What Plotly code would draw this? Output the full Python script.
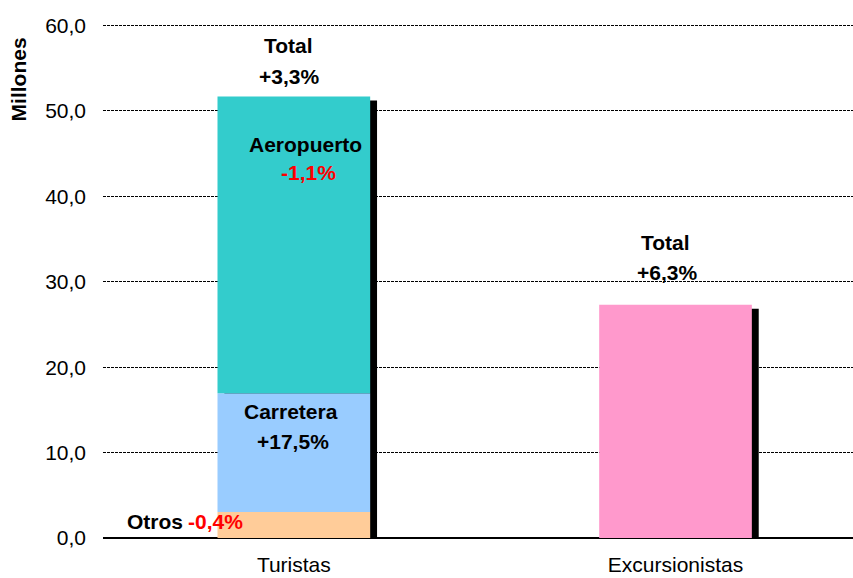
import plotly.graph_objects as go

categories = ["Turistas", "Excursionistas"]
segment_names = ["Otros", "Carretera", "Aeropuerto"]
turistas_values = [3.05, 13.9, 34.75]
excursionistas_values = [27.3]
segment_colors = ["#FFCC99", "#99CCFF", "#33CCCC"]
excursionistas_color = "#FF99CC"
y_ticks = [0, 10, 20, 30, 40, 50, 60]

bar_w = 0.4
shadow_dx = 0.018
shadow_dy = 0.47

fig = go.Figure()

totals = [sum(turistas_values), sum(excursionistas_values)]
# shadows
fig.add_trace(go.Bar(x=[i + shadow_dx for i in range(2)], y=[t - shadow_dy for t in totals],
                     width=bar_w, marker=dict(color="black", line=dict(width=0)),
                     showlegend=False, hoverinfo="skip"))

base = 0
for name, v, c in zip(segment_names, turistas_values, segment_colors):
    fig.add_trace(go.Bar(x=[0], y=[v], base=[base], width=bar_w, name=name,
                         marker=dict(color=c, line=dict(width=0)), showlegend=False))
    base += v
fig.add_trace(go.Bar(x=[1], y=excursionistas_values, width=bar_w, name="Excursionistas",
                     marker=dict(color=excursionistas_color, line=dict(width=0)), showlegend=False))

F = "Liberation Sans, Arial, sans-serif"
def ann(x, y, text, color="black", bold=True, size=21):
    fig.add_annotation(x=x, y=y, xref="x", yref="y", text=f"<b>{text}</b>" if bold else text,
                       showarrow=False, font=dict(family=F, size=size, color=color),
                       xanchor="center", yanchor="middle")

ann(-0.014, 57.7, "Total")
ann(-0.014, 54.0, "+3,3%")
ann(0.03, 46.1, "Aeropuerto")
ann(0.038, 42.8, "-1,1%", color="#FF0000")
ann(-0.007, 14.8, "Carretera")
ann(-0.001, 11.3, "+17,5%")
ann(-0.363, 1.9, "Otros")
ann(-0.205, 1.9, "-0,4%", color="#FF0000")
ann(0.975, 34.6, "Total")
ann(0.978, 31.1, "+6,3%")

fig.add_annotation(x=-0.1133, y=53.7, xref="paper", yref="y", text="<b>Millones</b>",
                   textangle=-90, showarrow=False, xanchor="center", yanchor="middle",
                   font=dict(family=F, size=21, color="black"))

fig.update_layout(
    width=853, height=578,
    margin=dict(l=103, r=0, t=17, b=40),
    plot_bgcolor="white", paper_bgcolor="white",
    barmode="overlay", separators=",.",
    font=dict(family=F, size=21, color="black"),
    xaxis=dict(range=[-0.5, 1.465], tickmode="array", tickvals=[0, 1], ticktext=categories,
               showgrid=False, zeroline=False, showline=False, ticks="", automargin=False,
               tickfont=dict(size=21), ticklabelstandoff=12),
    yaxis=dict(range=[0, 61.0], tickmode="array", tickvals=y_ticks, tickformat=".1f",
               showgrid=True, gridcolor="black", griddash="3px,1px", gridwidth=1,
               zeroline=True, zerolinecolor="black", zerolinewidth=2, automargin=False,
               showline=False, ticks="", ticklabelstandoff=16, tickfont=dict(size=21)),
)

fig.write_html("out.html", config={"displayModeBar": False},
               post_script="document.body.style.margin='0';")
